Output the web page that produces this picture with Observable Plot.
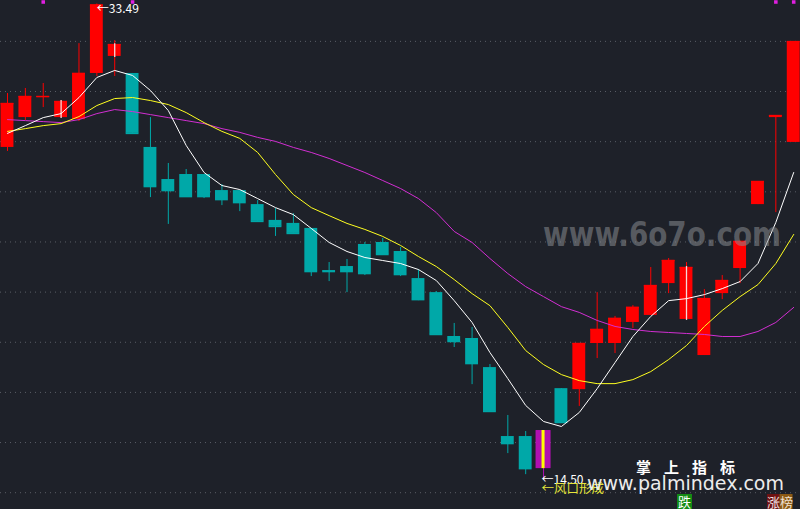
<!DOCTYPE html>
<html><head><meta charset="utf-8">
<script src="https://cdn.jsdelivr.net/npm/d3@7"></script>
<script src="https://cdn.jsdelivr.net/npm/@observablehq/plot@0.6"></script>
<style>
html,body{margin:0;padding:0;background:#1e2129;overflow:hidden}
#wrap{position:relative;width:800px;height:509px}
#wrap svg{display:block}
.ov{position:absolute;white-space:nowrap;line-height:1}
</style></head><body><div id="wrap"></div>
<script>
// ---- data (prices) ----
const opens  = [27.77,28.96,29.76,28.96,28.88,30.72,31.40,30.72,27.77,26.49,26.69,26.69,26.05,26.05,25.49,24.86,24.74,24.54,22.86,23.02,23.90,23.98,23.62,22.54,21.98,20.23,20.15,18.99,16.24,16.24,16.48,18.15,18.11,19.95,19.95,20.79,21.07,22.34,20.91,19.47,21.94,22.94,25.49,28.96,27.97];
const closes = [29.52,29.80,29.80,29.60,30.72,33.45,31.87,28.33,26.21,26.05,25.81,25.81,25.69,25.57,24.82,24.62,24.34,22.82,22.82,22.82,22.74,23.50,22.70,21.70,20.31,20.03,19.15,17.24,15.96,14.96,14.96,16.80,19.95,20.51,20.95,21.39,22.26,23.26,22.98,21.74,22.46,24.02,26.41,29.04,31.99];
const highs  = [29.92,30.12,30.32,29.64,31.91,33.49,32.03,30.72,28.96,27.13,26.89,26.69,26.29,26.05,25.65,25.33,25.13,24.54,23.18,23.30,23.98,24.14,23.78,22.90,22.02,20.75,20.59,19.11,17.08,16.44,16.48,18.15,19.95,21.98,21.03,21.46,22.98,23.34,23.18,22.10,22.66,24.02,26.41,29.04,31.99];
const lows   = [27.61,28.84,29.36,28.96,28.80,30.60,30.60,28.33,25.77,24.70,25.81,25.73,25.45,25.21,24.82,24.22,24.34,22.62,22.42,21.98,22.66,23.46,22.62,21.66,20.31,19.79,18.31,17.24,15.56,14.72,14.50,16.80,17.44,19.35,19.55,20.55,21.07,21.94,20.91,19.47,21.70,22.34,25.49,25.17,27.97];
const ma5  = [28.33,28.64,28.96,29.12,29.76,30.56,30.84,30.64,30.04,29.24,27.85,26.77,26.25,26.09,25.73,25.37,25.09,24.54,23.98,23.62,23.38,23.26,23.14,22.90,22.46,21.66,20.79,19.59,18.55,17.48,16.84,16.64,17.20,18.15,19.19,20.23,21.03,21.66,21.74,21.90,22.14,22.42,23.14,24.78,26.77];
const ma10 = [28.41,28.52,28.64,28.72,29.00,29.44,29.72,29.76,29.64,29.48,29.16,28.76,28.41,28.13,27.57,26.69,25.89,25.37,25.05,24.74,24.50,24.22,23.86,23.42,23.02,22.50,21.94,21.46,20.59,19.67,19.11,18.71,18.47,18.35,18.35,18.51,18.83,19.31,19.87,20.63,21.27,21.82,22.30,23.14,24.30];
const ma20 = [28.88,28.84,28.80,28.76,28.88,29.12,29.28,29.20,29.08,28.96,28.84,28.72,28.52,28.37,28.17,28.01,27.77,27.57,27.33,27.05,26.77,26.45,26.13,25.73,25.17,24.42,23.98,23.34,22.74,22.22,21.82,21.42,21.19,20.87,20.63,20.51,20.43,20.39,20.35,20.31,20.23,20.23,20.43,20.79,21.39];
const gridPrices = [14,16,18,20,22,24,26,28,30,32];
const markerIdx = [2,7,43,44];
const innerIdx = [3,6,38];
const specialIdx = 30;
const highLabel = {i:5, value:33.49};
const lowLabel = {i:30, value:14.50};
const lowNote = "←风口形成";

// ---- build ----
const candles = opens.map((o,i)=>({i, open:o, close:closes[i], high:highs[i], low:lows[i]}));
const UP="#ff0000", DOWN="#00a8a8", SPECIAL="#b010b0";
const color = d => d.i===specialIdx ? SPECIAL : (d.close>=d.open ? UP : DOWN);
const half = 0.36;
const normal = candles.filter(d=>d.i!==specialIdx);
const special = candles.filter(d=>d.i===specialIdx);
const inner = candles.filter(d=>innerIdx.includes(d.i));
const line = arr => arr.map((v,i)=>({i,v}));

const chart = Plot.plot({
  width:800, height:509, margin:0,
  style:{background:"#1e2129", overflow:"visible"},
  x:{type:"linear", domain:[-0.392,44.38], axis:null},
  y:{domain:[13.33,33.63], axis:null},
  marks:[
    Plot.ruleY(gridPrices,{stroke:"#5a5e66", strokeDasharray:"1,4", strokeWidth:1}),
    Plot.ruleX(candles,{x:"i", y1:"low", y2:"high", stroke:color, strokeWidth:1}),
    Plot.rect(normal,{x1:d=>d.i-half, x2:d=>d.i+half, y1:"open", y2:"close", fill:color}),
    Plot.ruleY(normal,{x1:d=>d.i-half, x2:d=>d.i+half, y:"close", stroke:color, strokeWidth:1.5}),
    Plot.rect(special,{x1:d=>d.i-0.42, x2:d=>d.i+0.42, y1:"open", y2:"close", fill:SPECIAL}),
    Plot.rect(special,{x1:d=>d.i-0.085, x2:d=>d.i+0.085, y1:"open", y2:"close", fill:"#ffff00"}),
    Plot.ruleX(inner,{x:"i", y1:"open", y2:"close", stroke:"#f4d8d8", strokeWidth:1.3, insetTop:1, insetBottom:1}),
    Plot.line(line(ma20),{x:"i", y:"v", stroke:"#d22ed2", strokeWidth:1}),
    Plot.line(line(ma10),{x:"i", y:"v", stroke:"#ffff20", strokeWidth:1}),
    Plot.line(line(ma5),{x:"i", y:"v", stroke:"#ffffff", strokeWidth:1}),
    Plot.dot(markerIdx,{x:d=>d, frameAnchor:"top", symbol:"square", r:2, fill:"#e020e0", dy:1.5}),
    Plot.text([highLabel],{x:"i", y:"value", text:d=>"←"+d.value.toFixed(2), textAnchor:"start", dx:0, dy:5, fill:"#ffffff", fontSize:12, fontFamily:"Noto Sans CJK SC"}),
    Plot.text([lowLabel],{x:"i", y:"value", text:d=>"←"+d.value.toFixed(2), textAnchor:"start", dx:-2, dy:0, fill:"#ffffff", fontSize:12, fontFamily:"Noto Sans CJK SC"}),
    Plot.text([lowLabel],{x:"i", y:"value", text:()=>lowNote, textAnchor:"start", dx:-2, dy:9, fill:"#e6e63c", fontSize:12.5, fontFamily:"Noto Sans CJK SC"})
  ]
});
const wrap = document.getElementById("wrap");
wrap.appendChild(chart);

// ---- watermark / overlay texts ----
const ns = "http://www.w3.org/2000/svg";
const ov = document.createElementNS(ns,"svg");
ov.setAttribute("width","800"); ov.setAttribute("height","509");
ov.style.position="absolute"; ov.style.left="0"; ov.style.top="0"; ov.style.pointerEvents="none";
function addText(t, x, y, opts){
  const el = document.createElementNS(ns,"text");
  el.textContent = t;
  el.setAttribute("x",x); el.setAttribute("y",y);
  for (const k in opts) el.setAttribute(k, opts[k]);
  ov.appendChild(el);
}
function addRect(x,y,w,h,fill){
  const r = document.createElementNS(ns,"rect");
  r.setAttribute("x",x); r.setAttribute("y",y); r.setAttribute("width",w); r.setAttribute("height",h); r.setAttribute("fill",fill);
  ov.appendChild(r);
}
addText("www.6o7o.com", 543, 246, {"font-family":"DejaVu Sans","font-weight":"bold","font-size":"33","fill":"#8a8d92","fill-opacity":"0.55","textLength":"238","lengthAdjust":"spacingAndGlyphs"});
addText("掌 上 指 标", 636, 473, {"font-family":"Noto Sans CJK SC","font-weight":"bold","font-size":"15","fill":"#ffffff","textLength":"99","lengthAdjust":"spacing"});
addText("www.palmindex.com", 587, 490, {"font-family":"DejaVu Sans","font-size":"20","fill":"#ececec","textLength":"197","lengthAdjust":"spacingAndGlyphs"});
addRect(677,494,15,15,"#138a13");
addText("跌", 678, 506.5, {"font-family":"Noto Sans CJK SC","font-size":"13","fill":"#ffffff"});
addRect(767,494,12.5,15,"#6e1212");
addRect(779.5,494,13,15,"#8c5a14");
addText("涨", 767, 506.5, {"font-family":"Noto Sans CJK SC","font-size":"13","fill":"#f0e0e0"});
addText("榜", 780, 506.5, {"font-family":"Noto Sans CJK SC","font-size":"13","fill":"#f0e0d0"});
wrap.appendChild(ov);
</script>
</body></html>
